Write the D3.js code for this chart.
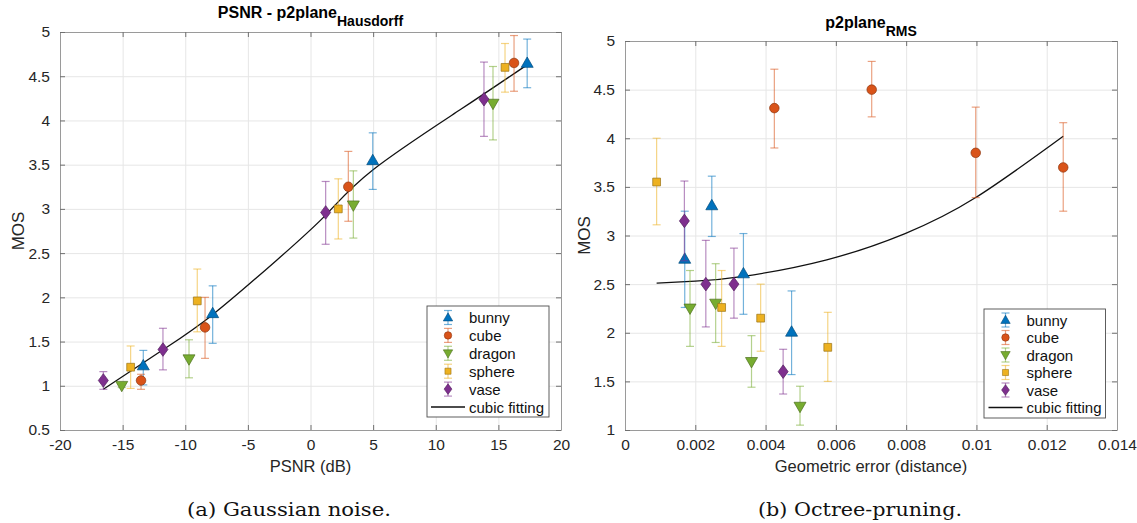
<!DOCTYPE html>
<html>
<head>
<meta charset="utf-8">
<script src="https://cdn.jsdelivr.net/npm/d3@7"></script>
<style>
  body { margin: 0; background: #fff; }
  svg { display: block; font-family: "Liberation Sans", Arial, Helvetica, sans-serif; }
</style>
</head>
<body>
<script>
// series names and colours (MATLAB default order)
const shapes = ["bunny", "cube", "dragon", "sphere", "vase"];
const colors = ["#0072BD", "#D95319", "#77AC30", "#EDB120", "#7E2F8E"];
const markers = ["triUp", "circle", "triDown", "square", "diamond"];

// (a) Gaussian noise: [PSNR, MOS, lower, upper]
const gaussBunny = [[-13.35, 1.23, 1.01, 1.40], [-7.81, 1.82, 1.48, 2.13], [4.97, 3.55, 3.22, 3.86], [17.3, 4.65, 4.37, 4.92]];
const gaussCube = [[-13.53, 1.06, 0.96, 1.13], [-8.42, 1.66, 1.31, 2.0], [3.02, 3.25, 2.86, 3.65], [16.25, 4.65, 4.33, 4.96]];
const gaussDragon = [[-15.07, 1.0, 0.98, 1.02], [-9.7, 1.30, 1.09, 1.52], [3.42, 3.04, 2.67, 3.43], [14.57, 4.19, 3.78, 4.61]];
const gaussSphere = [[-14.36, 1.21, 0.97, 1.45], [-9.04, 1.96, 1.61, 2.32], [2.22, 3.0, 2.66, 3.34], [15.53, 4.60, 4.32, 4.87]];
const gaussVase = [[-16.54, 1.06, 0.96, 1.16], [-11.78, 1.41, 1.18, 1.65], [1.21, 2.96, 2.60, 3.31], [13.85, 4.24, 3.82, 4.66]];
const gaussFit = [[-16.54, 0.96], [-11.75, 1.41], [-7.76, 1.81], [-2.7, 2.42], [1.21, 2.93], [4.97, 3.44], [11.94, 4.12], [17.2, 4.62]];

// (b) Octree-pruning: [geometric error, MOS, lower, upper]
const octBunny = [[0.0017, 2.76, 2.26, 3.25], [0.00247, 3.31, 2.99, 3.61], [0.00337, 2.61, 2.19, 3.02], [0.00474, 2.01, 1.57, 2.43]];
const octCube = [[0.00425, 4.31, 3.90, 4.71], [0.00702, 4.50, 4.22, 4.79], [0.00998, 3.85, 3.39, 4.32], [0.01247, 3.70, 3.25, 4.16]];
const octDragon = [[0.00185, 2.25, 1.86, 2.64], [0.00258, 2.30, 1.90, 2.71], [0.0036, 1.70, 1.44, 1.97], [0.00498, 1.24, 1.05, 1.45]];
const octSphere = [[0.0009, 3.55, 3.11, 4.0], [0.00275, 2.26, 1.86, 2.64], [0.00386, 2.15, 1.81, 2.50], [0.00577, 1.85, 1.50, 2.21]];
const octVase = [[0.00169, 3.15, 2.74, 3.56], [0.0023, 2.50, 2.06, 2.95], [0.0031, 2.50, 2.15, 2.87], [0.0045, 1.60, 1.37, 1.83]];
const octFit = [[0.0009, 2.51], [0.002, 2.53], [0.00337, 2.58], [0.00574, 2.75], [0.00797, 3.02], [0.00998, 3.39], [0.01247, 4.02]];

// tick values
const gaussXTicks = [-20, -15, -10, -5, 0, 5, 10, 15, 20];
const gaussYTicks = [0.5, 1, 1.5, 2, 2.5, 3, 3.5, 4, 4.5, 5];
const octXTicks = [0, 0.002, 0.004, 0.006, 0.008, 0.01, 0.012, 0.014];
const octYTicks = [1, 1.5, 2, 2.5, 3, 3.5, 4, 4.5, 5];

const W = 1137, H = 523;
const svg = d3.select("body").append("svg").attr("width", W).attr("height", H);

function markerPath(kind, k = 1) {
  if (kind === "triUp") return `M0,${-6 * k}L${6 * k},${4.4 * k}L${-6 * k},${4.4 * k}Z`;
  if (kind === "triDown") return `M0,${6 * k}L${6 * k},${-4.4 * k}L${-6 * k},${-4.4 * k}Z`;
  if (kind === "square") return `M${-3.9 * k},${-3.9 * k}h${7.8 * k}v${7.8 * k}h${-7.8 * k}Z`;
  if (kind === "diamond") return `M0,${-6.8 * k}L${5 * k},0L0,${6.8 * k}L${-5 * k},0Z`;
  return d3.symbol(d3.symbolCircle, 72 * k * k)();
}

function drawPanel(cfg) {
  const x = d3.scaleLinear(cfg.xDomain, [cfg.left, cfg.right]);
  const y = d3.scaleLinear(cfg.yDomain, [cfg.bottom, cfg.top]);
  const g = svg.append("g");
  const pw = cfg.right - cfg.left, ph = cfg.bottom - cfg.top;

  // grid
  g.append("g")
      .attr("transform", `translate(0,${cfg.bottom})`)
      .call(d3.axisBottom(x).tickValues(cfg.xTicks).tickSize(-ph).tickFormat(""))
      .call(a => a.select(".domain").remove())
      .call(a => a.selectAll("line").attr("stroke", "#e6e6e6"));
  g.append("g")
      .attr("transform", `translate(${cfg.left},0)`)
      .call(d3.axisLeft(y).tickValues(cfg.yTicks).tickSize(-pw).tickFormat(""))
      .call(a => a.select(".domain").remove())
      .call(a => a.selectAll("line").attr("stroke", "#e6e6e6"));

  // axes with inward ticks, all four sides
  const tk = 5;
  const axes = [
    [d3.axisBottom(x).tickValues(cfg.xTicks).tickSizeInner(-tk).tickSizeOuter(0).tickPadding(9).tickFormat(cfg.xFmt), `translate(0,${cfg.bottom})`],
    [d3.axisTop(x).tickValues(cfg.xTicks).tickSizeInner(-tk).tickSizeOuter(0).tickFormat(""), `translate(0,${cfg.top})`],
    [d3.axisLeft(y).tickValues(cfg.yTicks).tickSizeInner(-tk).tickSizeOuter(0).tickPadding(10).tickFormat(d => String(d)), `translate(${cfg.left},0)`],
    [d3.axisRight(y).tickValues(cfg.yTicks).tickSizeInner(-tk).tickSizeOuter(0).tickFormat(""), `translate(${cfg.right},0)`],
  ];
  axes.forEach(([ax, tr]) => {
    g.append("g").attr("transform", tr).call(ax)
        .call(a => a.select(".domain").attr("stroke", "#9a9a9a"))
        .call(a => a.selectAll(".tick line").attr("stroke", "#707070"))
        .call(a => a.selectAll("text").attr("font-size", 15.5).attr("fill", "#262626")
            .attr("font-family", "'Liberation Sans', Arial, sans-serif"));
  });

  // fitted curve
  const line = d3.line().x(d => x(d[0])).y(d => y(d[1])).curve(d3.curveNatural);
  g.append("path").attr("d", line(cfg.fit))
      .attr("fill", "none").attr("stroke", "#111").attr("stroke-width", 1.3);

  // error bars + markers
  cfg.series.forEach((data, i) => {
    const c = colors[i];
    const s = g.append("g");
    data.forEach(d => {
      const px = x(d[0]);
      const eb = s.append("g").attr("stroke", c).attr("stroke-opacity", 0.55).attr("stroke-width", 1.2);
      eb.append("line").attr("x1", px).attr("x2", px).attr("y1", y(d[2])).attr("y2", y(d[3]));
      eb.append("line").attr("x1", px - 4).attr("x2", px + 4).attr("y1", y(d[2])).attr("y2", y(d[2]));
      eb.append("line").attr("x1", px - 4).attr("x2", px + 4).attr("y1", y(d[3])).attr("y2", y(d[3]));
    });
    data.forEach(d => {
      s.append("path").attr("d", markerPath(markers[i]))
          .attr("transform", `translate(${x(d[0])},${y(d[1])})`)
          .attr("fill", c).attr("stroke", d3.color(c).darker(1.2)).attr("stroke-width", 0.7);
    });
  });

  // titles and labels
  const t = g.append("text").attr("x", (cfg.left + cfg.right) / 2 - cfg.subShift).attr("y", cfg.titleY)
      .attr("text-anchor", "middle").attr("font-weight", "bold").attr("font-size", 16).attr("fill", "#000");
  t.append("tspan").text(cfg.title);
  t.append("tspan").attr("dy", 8).attr("font-size", 14).text(cfg.sub);

  g.append("text").attr("x", (cfg.left + cfg.right) / 2).attr("y", 472)
      .attr("text-anchor", "middle").attr("font-size", 16.5).attr("fill", "#262626").text(cfg.xLabel);
  g.append("text").attr("transform", `translate(${cfg.yLabelX},${(cfg.top + cfg.bottom) / 2}) rotate(-90)`)
      .attr("text-anchor", "middle").attr("font-size", 17).attr("fill", "#262626").text("MOS");

  svg.append("text").attr("x", cfg.captionX).attr("y", 516)
      .attr("text-anchor", "middle").attr("font-family", "'DejaVu Serif', 'Liberation Serif', serif")
      .attr("font-size", 19).attr("textLength", 204).attr("lengthAdjust", "spacingAndGlyphs")
      .attr("fill", "#111").text(cfg.caption);

  // legend
  const L = cfg.legend;
  const lg = g.append("g").attr("transform", `translate(${L.x},${L.y})`);
  lg.append("rect").attr("width", L.w).attr("height", L.h)
      .attr("fill", "#fff").attr("stroke", "#4d4d4d").attr("stroke-width", 0.9);
  const labels = shapes.concat(["cubic fitting"]);
  labels.forEach((name, i) => {
    const cy = L.row0 + i * L.step;
    const row = lg.append("g").attr("transform", `translate(0,${cy})`);
    if (i < shapes.length) {
      const c = colors[i];
      const eb = row.append("g").attr("stroke", c).attr("stroke-opacity", 0.55).attr("stroke-width", 1.2);
      eb.append("line").attr("x1", L.icon).attr("x2", L.icon).attr("y1", -7).attr("y2", 7);
      eb.append("line").attr("x1", L.icon - 4).attr("x2", L.icon + 4).attr("y1", -7).attr("y2", -7);
      eb.append("line").attr("x1", L.icon - 4).attr("x2", L.icon + 4).attr("y1", 7).attr("y2", 7);
      row.append("path").attr("d", markerPath(markers[i], 0.78))
          .attr("transform", `translate(${L.icon},0)`)
          .attr("fill", c).attr("stroke", d3.color(c).darker(1.2)).attr("stroke-width", 0.6);
    } else {
      row.append("line").attr("x1", L.icon - 17).attr("x2", L.icon + 17)
          .attr("stroke", "#111").attr("stroke-width", 1.3);
    }
    row.append("text").attr("x", L.text).attr("y", 5.5)
        .attr("font-size", 15).attr("fill", "#111").text(name);
  });
}

drawPanel({
  left: 60, right: 561, top: 32, bottom: 430,
  xDomain: [-20, 20], yDomain: [0.5, 5],
  xTicks: gaussXTicks, yTicks: gaussYTicks, xFmt: d => String(d),
  series: [gaussBunny, gaussCube, gaussDragon, gaussSphere, gaussVase], fit: gaussFit,
  title: "PSNR - p2plane", sub: "Hausdorff", titleY: 18, subShift: 0,
  xLabel: "PSNR (dB)", yLabelX: 24, caption: "(a) Gaussian noise.", captionX: 289,
  legend: { x: 427, y: 306, w: 122, h: 111, row0: 11.5, step: 17.9, icon: 21, text: 42 },
});

drawPanel({
  left: 625, right: 1117, top: 41, bottom: 430,
  xDomain: [0, 0.014], yDomain: [1, 5],
  xTicks: octXTicks, yTicks: octYTicks, xFmt: d => String(+d.toFixed(3)),
  series: [octBunny, octCube, octDragon, octSphere, octVase], fit: octFit,
  title: "p2plane", sub: "RMS", titleY: 28, subShift: 0,
  xLabel: "Geometric error (distance)", yLabelX: 590, caption: "(b) Octree-pruning.", captionX: 860,
  legend: { x: 984, y: 309, w: 121.5, h: 109, row0: 11, step: 17.5, icon: 21.5, text: 42.5 },
});
</script>
</body>
</html>
